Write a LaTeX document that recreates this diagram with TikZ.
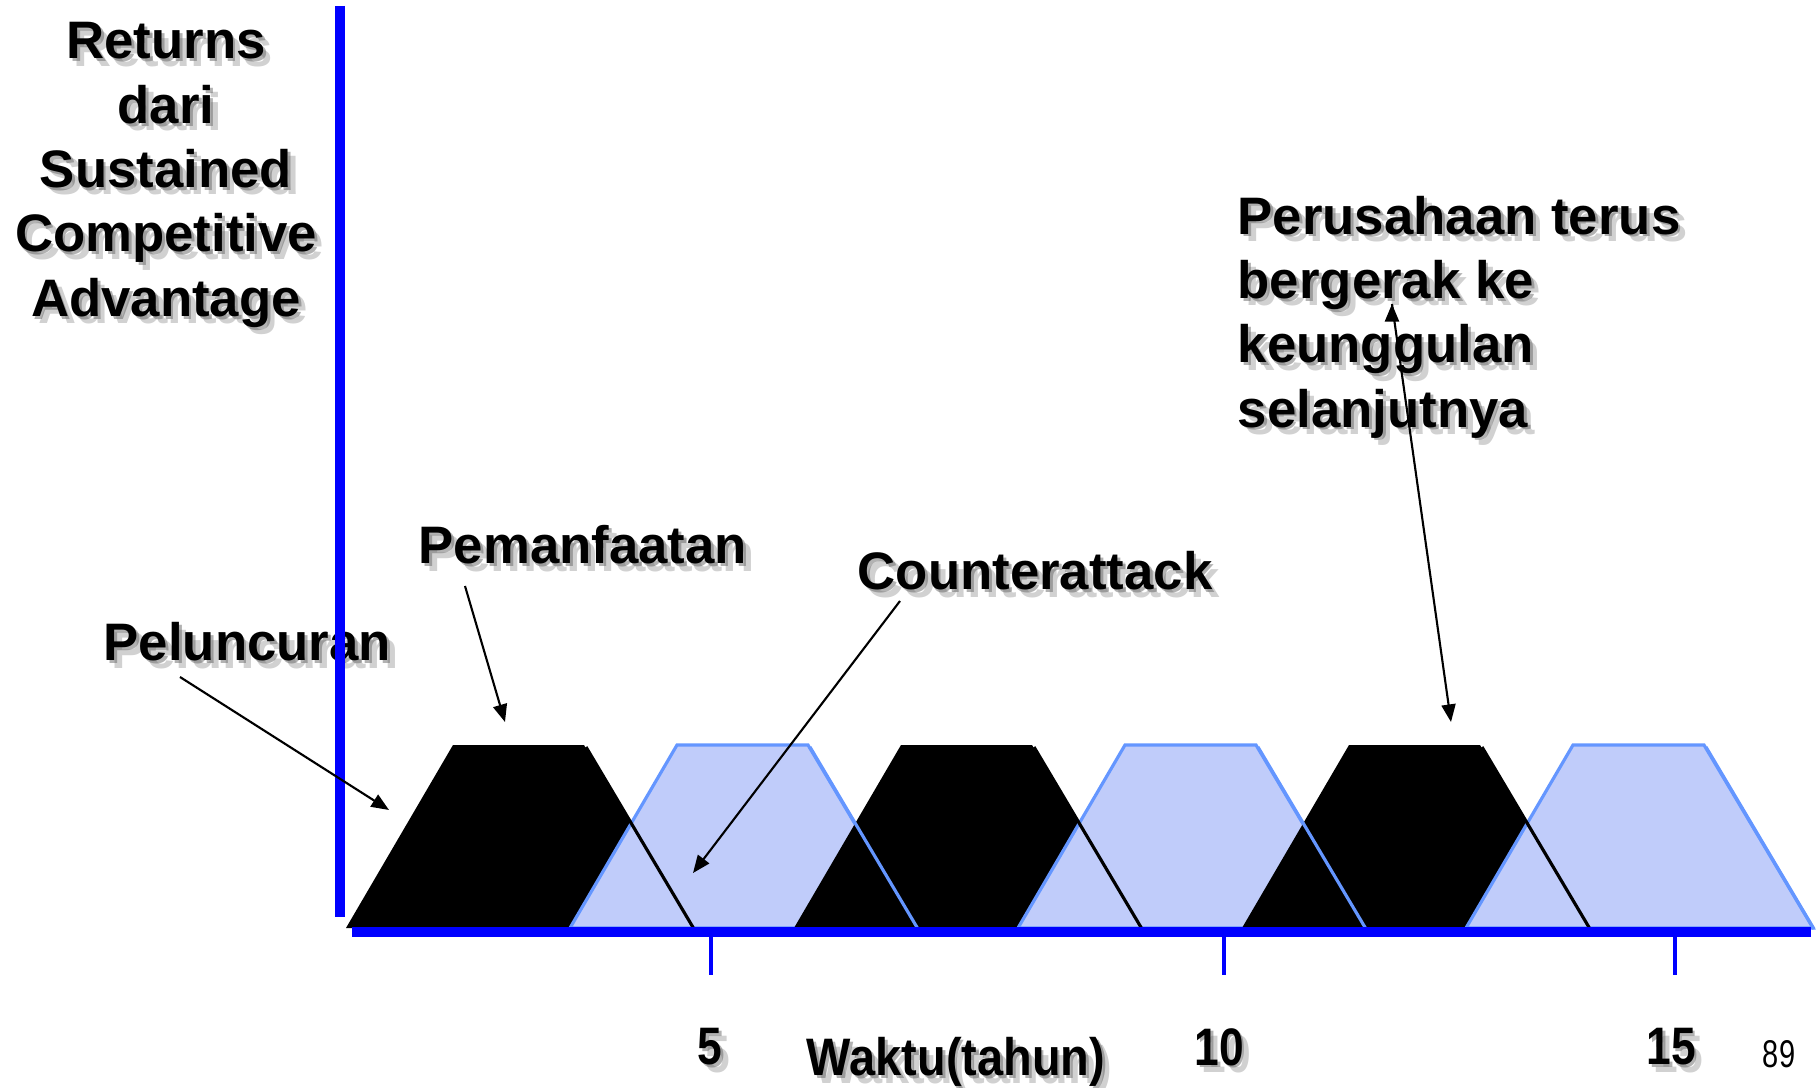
\documentclass[tikz,border=0pt]{standalone}
\usepackage{fontspec}
\setmainfont{Liberation Sans}
\usetikzlibrary{arrows.meta}

\definecolor{sumbu}{RGB}{0,0,255}
\definecolor{isibiru}{RGB}{192,204,250}
\definecolor{tepibiru}{RGB}{100,150,255}

% text with a soft drop shadow behind it
\newcommand{\tulis}[4][]{%
  \node[bayang,#1,xshift=1.3pt,yshift=-1.3pt,opacity=.3] at (#3) {#4};
  \node[bayang,#1] at (#3) {#4};
  \node[teks,#1] (#2) at (#3) {#4};}

\begin{document}
\begin{tikzpicture}[x=0.01cm, y=-0.01cm, >={Triangle[length=5pt,width=4pt]}]
  \tikzstyle{teks}=[font=\bfseries\fontsize{15}{18.3}\selectfont, inner sep=0pt]
  \tikzstyle{bayang}=[teks, text=black!60, opacity=.5, xshift=.8pt, yshift=-.8pt]
  \tikzstyle{hitam}=[fill=black, draw=none]
  \tikzstyle{biru}=[fill=isibiru, draw=tepibiru, line width=.9pt]
  \tikzstyle{tepihitam}=[draw=black, line width=.9pt]
  \tikzstyle{tepibiru}=[draw=tepibiru, line width=.9pt]
  \tikzstyle{panah}=[->, draw=black, line width=.6pt]

  \useasboundingbox (0,0) rectangle (1820,1088);

  % labels
  \tulis[align=center]{Y}{166,175}{Returns\\dari\\Sustained\\Competitive\\Advantage}
  \tulis[align=left, anchor=west]{S}{1237,317}{Perusahaan terus\\bergerak ke\\keunggulan\\selanjutnya}
  \tulis[anchor=west]{M}{418,545}{Pemanfaatan}
  \tulis[anchor=west]{C}{857,571}{Counterattack}
  \tulis[anchor=west]{P}{103,642}{Peluncuran}
  \tulis{T5}{710,1047}{\scalebox{.84}[1]{5}}
  \tulis{T10}{1219,1047}{\scalebox{.84}[1]{10}}
  \tulis{T15}{1671,1047}{\scalebox{.84}[1]{15}}
  \tulis{W}{956,1062}{\scalebox{.89}[1]{Waktu(tahun)}}
  \node[inner sep=0pt, font=\fontsize{11}{13}\selectfont] (H) at (1779,1054) {\scalebox{.75}[1]{89}};

  % waves of advantage
  \foreach \i/\warna in {0/hitam,1/biru,2/hitam,3/biru,4/hitam,5/biru}{
    \draw[\warna] ({346+224*\i},928) -- ++(107,-183) -- ++(131,0) -- ++(109,183) -- cycle;
  }
  \foreach \i/\warna in {0/hitam,1/biru,2/hitam,3/biru,4/hitam,5/biru}{
    \draw[tepi\warna] ({346+224*\i+240},747) -- ({346+224*\i+348},929);
  }

  % axes
  \coordinate (O1) at (340,6);
  \coordinate (O2) at (340,917);
  \coordinate (X1) at (352,932);
  \coordinate (X2) at (1811,932);
  \draw[sumbu, line width=2.85pt] (O1) -- (O2);
  \draw[sumbu, line width=2.85pt] (X1) -- (X2);
  \foreach \x in {711,1224,1675}
    \draw[sumbu, line width=1.1pt] (\x,937) -- (\x,975);

  % pointers
  \coordinate (p1) at (180,677);
  \coordinate (p2) at (389,810);
  \coordinate (m1) at (465,586);
  \coordinate (m2) at (505,722);
  \coordinate (c1) at (900,601);
  \coordinate (c2) at (693,873);
  \coordinate (s1) at (1392,304);
  \coordinate (s2) at (1451,722);
  \path[panah] (p1) edge (p2)
	(m1) edge (m2)
	(c1) edge (c2)
	(s1) edge (s2);
\end{tikzpicture}
\end{document}
